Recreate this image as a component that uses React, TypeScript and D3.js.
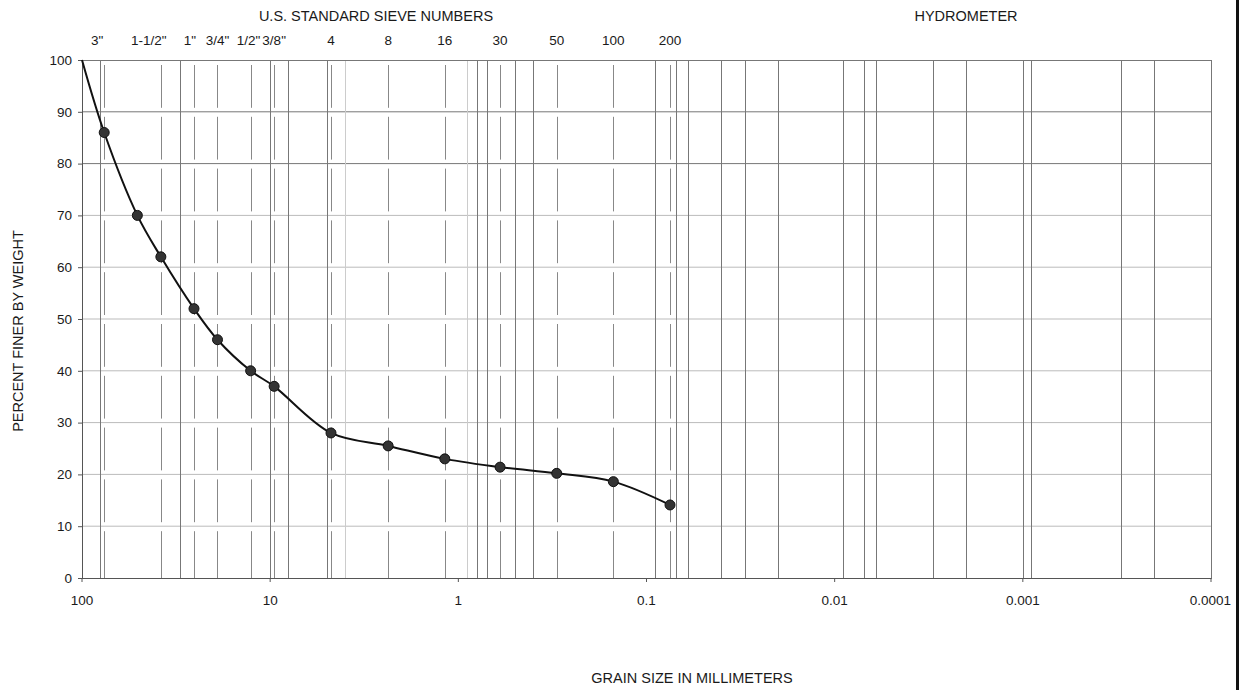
import * as d3 from 'd3'
import { useEffect, useRef } from 'react'

// grain size distribution
const sizesMm = [100, 76.2, 50.8, 38.1, 25.4, 19.05, 12.7, 9.525, 4.75, 2.36, 1.18, 0.6, 0.3, 0.15, 0.075]
const percentFiner = [100, 86, 70, 62, 52, 46, 40, 37, 28, 25.5, 23, 21.4, 20.2, 18.6, 14.1]

const sieveLabels = ['3"', '1-1/2"', '1"', '3/4"', '1/2"', '3/8"', '4', '8', '16', '30', '50', '100', '200']
const sieveOpeningsMm = [76.2, 38.1, 25.4, 19.05, 12.7, 9.525, 4.75, 2.36, 1.18, 0.6, 0.3, 0.15, 0.075]

const xTicks = [100, 10, 1, 0.1, 0.01, 0.001, 0.0001]
const xTickLabels = ['100', '10', '1', '0.1', '0.01', '0.001', '0.0001']
const yTicks = [0, 10, 20, 30, 40, 50, 60, 70, 80, 90, 100]

// full-height vertical rules printed on the form
const formLinesMm = [80, 30, 10, 8, 5, 0.8, 0.7, 0.5, 0.4, 0.09, 0.07, 0.06, 0.04, 0.03, 0.02,
  0.009, 0.007, 0.006, 0.003, 0.002, 0.001, 0.0009, 0.0003, 0.0002]
const faintLinesMm = [4, 0.9]

export default function App() {
  const svgRef = useRef(null)

  const width = 1242
  const height = 690
  const left = 82
  const right = 1211
  const top = 60
  const bottom = 578

  useEffect(() => {
    const svg = d3.select(svgRef.current)
    svg.selectAll('*').remove()

    const x = d3.scaleLog().domain([100, 0.0001]).range([left, right])
    const y = d3.scaleLinear().domain([0, 100]).range([bottom, top])

    const font = 'Liberation Sans, Arial, sans-serif'
    const tickSize = '13.5px'
    const titleSize = '14.5px'

    // horizontal grid
    svg.append('g')
      .selectAll('line')
      .data(yTicks.filter(v => v > 0 && v < 100))
      .enter()
      .append('line')
      .attr('x1', left)
      .attr('x2', right)
      .attr('y1', d => y(d))
      .attr('y2', d => y(d))
      .style('stroke', d => (d >= 80 ? '#777' : '#bbb'))
      .style('stroke-width', 1)

    // form rules
    svg.append('g')
      .selectAll('line')
      .data(formLinesMm)
      .enter()
      .append('line')
      .attr('x1', d => Math.round(x(d)) + 0.5)
      .attr('x2', d => Math.round(x(d)) + 0.5)
      .attr('y1', top)
      .attr('y2', bottom)
      .style('stroke', '#777')
      .style('stroke-width', 1)

    svg.append('g')
      .selectAll('line')
      .data(faintLinesMm)
      .enter()
      .append('line')
      .attr('x1', d => Math.round(x(d)) + 0.5)
      .attr('x2', d => Math.round(x(d)) + 0.5)
      .attr('y1', top)
      .attr('y2', bottom)
      .style('stroke', '#ccc')
      .style('stroke-width', 1)

    // sieve lines, broken at each horizontal rule
    const segs: { d: number; y1: number; y2: number }[] = []
    sieveOpeningsMm.forEach(d => {
      for (let v = 0; v < 100; v += 10) {
        segs.push({ d, y1: y(v + 10) + 5, y2: v === 0 ? y(0) : y(v) - 4 })
      }
    })
    svg.append('g')
      .selectAll('line')
      .data(segs)
      .enter()
      .append('line')
      .attr('x1', s => Math.round(x(s.d)) + 0.5)
      .attr('x2', s => Math.round(x(s.d)) + 0.5)
      .attr('y1', s => s.y1)
      .attr('y2', s => s.y2)
      .style('stroke', '#888')
      .style('stroke-width', 1)

    // frame
    svg.append('rect')
      .attr('x', left + 0.5)
      .attr('y', top + 0.5)
      .attr('width', right - left)
      .attr('height', bottom - top)
      .style('fill', 'none')
      .style('stroke', '#777')
      .style('stroke-width', 1)

    svg.append('line')
      .attr('x1', left + 0.5).attr('x2', left + 0.5)
      .attr('y1', top).attr('y2', bottom)
      .style('stroke', '#555')
    svg.append('line')
      .attr('x1', left).attr('x2', right)
      .attr('y1', bottom + 0.5).attr('y2', bottom + 0.5)
      .style('stroke', '#555')

    // y axis
    const yAxis = svg.append('g')
    yAxis.selectAll('line')
      .data(yTicks)
      .enter()
      .append('line')
      .attr('x1', left - 4)
      .attr('x2', left)
      .attr('y1', d => y(d) + 0.5)
      .attr('y2', d => y(d) + 0.5)
      .style('stroke', '#555')
    yAxis.selectAll('text')
      .data(yTicks)
      .enter()
      .append('text')
      .attr('x', left - 10)
      .attr('y', d => y(d))
      .attr('dy', '0.35em')
      .attr('text-anchor', 'end')
      .style('font-family', font)
      .style('font-size', tickSize)
      .style('fill', '#1a1a1a')
      .text(d => d)

    // x axis
    const xAxis = svg.append('g')
    xAxis.selectAll('line')
      .data(xTicks)
      .enter()
      .append('line')
      .attr('x1', d => x(d))
      .attr('x2', d => x(d))
      .attr('y1', bottom)
      .attr('y2', bottom + 4)
      .style('stroke', '#555')
    xAxis.selectAll('text')
      .data(xTicks)
      .enter()
      .append('text')
      .attr('x', (d, i) => (i === xTicks.length - 1 ? x(d) + 20 : x(d)))
      .attr('y', 600)
      .attr('dy', '0.35em')
      .attr('text-anchor', (d, i) => (i === xTicks.length - 1 ? 'end' : 'middle'))
      .style('font-family', font)
      .style('font-size', tickSize)
      .style('fill', '#1a1a1a')
      .text((d, i) => xTickLabels[i])

    // sieve numbers on top
    const labelShift: { [k: string]: number } = { '3"': -7, '1-1/2"': -12, '1"': -4, '1/2"': -2 }
    svg.append('g')
      .selectAll('text')
      .data(sieveOpeningsMm)
      .enter()
      .append('text')
      .attr('x', (d, i) => x(d) + (labelShift[sieveLabels[i]] || 0))
      .attr('y', 40)
      .attr('dy', '0.35em')
      .attr('text-anchor', 'middle')
      .style('font-family', font)
      .style('font-size', tickSize)
      .style('fill', '#1a1a1a')
      .text((d, i) => sieveLabels[i])

    const title = (tx: number, ty: number, s: string) =>
      svg.append('text')
        .attr('x', tx)
        .attr('y', ty)
        .attr('dy', '0.35em')
        .attr('text-anchor', 'middle')
        .style('font-family', font)
        .style('font-size', titleSize)
        .style('fill', '#1a1a1a')
        .text(s)

    title(376, 16, 'U.S. STANDARD SIEVE NUMBERS')
    title(966, 16, 'HYDROMETER')
    title(692, 678, 'GRAIN SIZE IN MILLIMETERS')
    title(0, 0, 'PERCENT FINER BY WEIGHT')
      .attr('x', null)
      .attr('y', null)
      .attr('transform', `translate(18, 331) rotate(-90)`)

    // gradation curve
    const pts = sizesMm.map((d, i) => ({ d, p: percentFiner[i] }))
    const line = d3.line<{ d: number; p: number }>()
      .x(v => x(v.d))
      .y(v => y(v.p))
      .curve(d3.curveCatmullRom.alpha(0.5))

    svg.append('path')
      .datum(pts)
      .attr('d', line)
      .style('fill', 'none')
      .style('stroke', '#111')
      .style('stroke-width', 2)

    svg.append('g')
      .selectAll('circle')
      .data(pts.slice(1))
      .enter()
      .append('circle')
      .attr('cx', v => x(v.d))
      .attr('cy', v => y(v.p))
      .attr('r', 5)
      .style('fill', '#333')
      .style('stroke', '#111')
      .style('stroke-width', 1)

    // heavy rule at the right edge of the sheet
    svg.append('line')
      .attr('x1', 1237.5).attr('x2', 1237.5)
      .attr('y1', 0).attr('y2', height)
      .style('stroke', '#111')
      .style('stroke-width', 3)
  }, [svgRef])

  return (
    <svg
      ref={svgRef}
      width={width}
      height={height}
      style={{ position: 'absolute', left: 0, top: 0, background: '#fff' }}
    />
  )
}
